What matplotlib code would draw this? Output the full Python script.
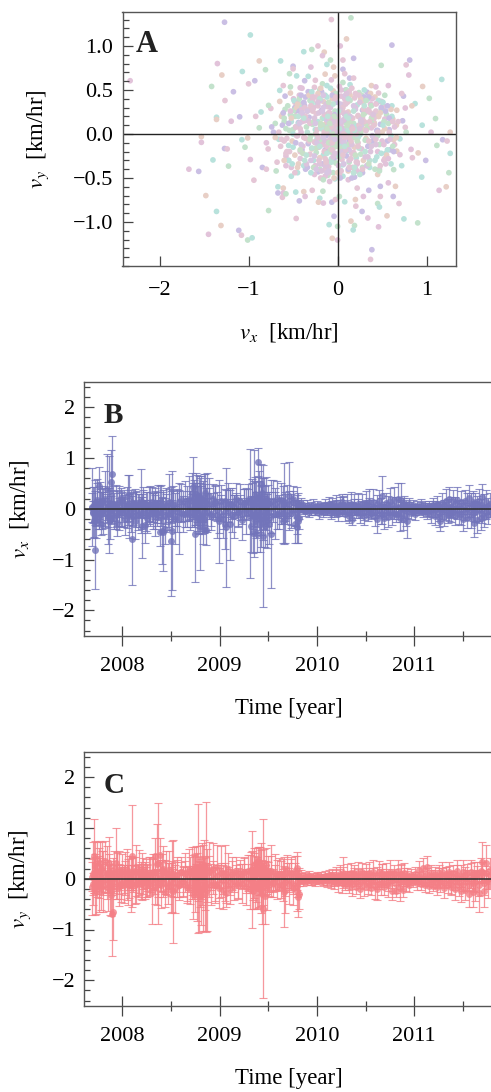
"""Velocity scatter (A) and v_x / v_y time series with error bars (B, C)."""

import matplotlib
matplotlib.use("Agg")
import matplotlib.pyplot as plt
from matplotlib.ticker import MultipleLocator

plt.rcParams["font.family"] = ["Liberation Serif", "DejaVu Serif"]
plt.rcParams["mathtext.fontset"] = "stix"

W, H = 491, 1092

# ── Panel A: outlying points, then the middle ring, then the core ──
scat_x = [
    -1.27, -0.07, 0.15, -0.98, 0.10, 0.03, 0.61, -0.22, -0.29, -0.38,
    -0.15, -0.17, 0.18, 0.06, -0.08, -0.64, -0.88, -1.35, 0.81, 0.77,
    0.49, -0.12, -0.045, -0.30, -0.50, -0.50, -0.81, -1.07, -1.30, 0.80,
    0.06, 0.08, -0.54, -0.46, -0.14, -2.33, -0.93, -1.00, -1.415, 1.17,
    0.955, 0.57, -1.17, -1.265, 1.03, 0.87, 0.835, 0.76, 0.74, 0.72,
    1.10, 0.95, 1.265, 1.05, 1.18, 1.23, 1.115, 1.265, 0.905, 0.825,
    0.99, 0.84, 1.25, 0.945, 1.22, 1.14, 0.625, 0.69, 0.90, 0.745,
    0.555, 0.46, 0.385, 0.37, 0.19, 0.175, 0.15, 0.34, 0.275, 0.205,
    0.00, -0.095, -0.06, 0.00, -0.04, -0.465, -0.775, -1.36, -1.31, -1.45,
    -1.11, -1.08, -1.01, -0.96, -1.48, -1.67, -1.56, -0.94, -1.225, -1.40,
    -1.53, -1.53, -1.27, -1.24, -1.04, -1.075, -1.01, -0.98, -0.845, -0.80,
    -0.69, -1.36, -1.36, -1.195, -1.10, -0.92, -0.88,
    # middle ring
    -0.67, -0.61, -0.61, -0.67, -0.62, -0.58, -0.47, -0.38, -0.365, -0.43,
    -0.285, -0.165, -0.20, -0.215, -0.16, -0.065, -0.025, 0.02, 0.08, 0.20,
    0.29, 0.35, 0.48, 0.45, 0.47, 0.65, 0.57, 0.48, 0.22, 0.63,
    0.72, 0.665, 0.70, 0.59, -0.61, -0.53, -0.65, -0.53, -0.42, -0.59,
    -0.75, -0.775, -0.86, -0.65, -0.495, -0.37, -0.25, -0.17, -0.33, -0.03,
    -0.07, 0.135, 0.18, 0.06, 0.14, 0.38, 0.43, 0.33, 0.46, 0.53,
    0.61, 0.665, 0.51, 0.73, 0.76, 0.77, 0.70, 0.63, -0.80, -0.72,
    -0.78, -0.70, -0.66, -0.62, -0.58, -0.74, -0.68, -0.60, -0.55, -0.70,
    -0.52, -0.48, -0.57, -0.50, -0.45, -0.63, -0.55, -0.47, -0.60, -0.42,
    -0.52, -0.44, -0.58, -0.40, -0.48, 0.55, 0.60, 0.66, 0.52, 0.58,
    0.64, 0.49, 0.54, 0.62, 0.47, 0.56, 0.68, 0.50, 0.60, 0.45,
    # core
    -0.40, -0.33, -0.26, -0.20, -0.12, -0.05, 0.02, 0.09, 0.16, 0.24,
    0.30, 0.37, -0.43, -0.36, -0.29, -0.21, -0.14, -0.06, 0.04, 0.11,
    0.19, 0.27, 0.34, 0.42, 0.49, -0.46, -0.38, -0.31, -0.23, -0.16,
    -0.09, -0.01, 0.07, 0.14, 0.22, 0.29, 0.37, 0.44, 0.51, -0.49,
    -0.41, -0.34, -0.27, -0.18, -0.11, -0.03, 0.05, 0.12, 0.20, 0.28,
    0.35, 0.43, 0.50, -0.47, -0.39, -0.32, -0.24, -0.17, -0.08, 0.00,
    0.08, 0.15, 0.23, 0.31, 0.39, 0.46, 0.53, -0.44, -0.37, -0.28,
    -0.22, -0.13, -0.04, 0.03, 0.10, 0.18, 0.26, 0.33, 0.41, 0.48,
    -0.42, -0.35, -0.25, -0.19, -0.10, -0.02, 0.06, 0.13, 0.21, 0.30,
    0.38, 0.45, -0.38, -0.30, -0.23, -0.15, -0.07, 0.01, 0.09, 0.17,
    0.25, 0.32, 0.40, -0.33, -0.26, -0.18, -0.09, 0.00, 0.07, 0.15,
    0.23, 0.31, 0.36, -0.29, -0.21, -0.14, -0.06, 0.03, 0.11, 0.19,
    0.27, 0.34, -0.31, -0.24, -0.16, -0.08, 0.02, 0.10, 0.18, 0.26,
    -0.27, -0.20, -0.12, -0.04, 0.05, 0.13, 0.21, 0.29, -0.25, -0.17,
    -0.10, -0.02, 0.06, 0.14, 0.22, -0.22, -0.14, -0.05, 0.03, 0.12,
    0.20, 0.28, -0.19, -0.11, -0.03, 0.04, 0.12, 0.19, -0.16, -0.08,
    0.00, 0.08, 0.16, -0.13, -0.06, 0.02, 0.09, 0.15, -0.11, -0.04,
    0.03, 0.10, -0.15, -0.07, 0.01, 0.07, 0.14, -0.18, -0.09, -0.01,
    0.06, 0.13, -0.12, -0.05, 0.04, 0.11, -0.10, -0.03, 0.05, 0.12,
    -0.08, 0.00, 0.08, -0.13, -0.04, 0.04, 0.10, -0.06, 0.02, 0.07,
]
scat_y = [
    1.27, 1.30, 1.32, 1.125, 1.08, 1.00, 1.01, 1.00, 0.96, 0.935,
    0.93, 0.89, 0.86, 0.84, 0.84, 0.83, 0.83, 0.80, 0.84, 0.785,
    0.78, 0.79, 0.76, 0.76, 0.77, 0.74, 0.73, 0.71, 0.67, 0.67,
    0.735, 0.685, 0.685, 0.66, 0.68, 0.605, 0.605, 0.57, 0.54, 0.62,
    0.54, 0.55, 0.48, 0.38, 0.405, 0.345, 0.32, 0.295, 0.43, 0.46,
    0.175, 0.10, 0.02, 0.02, -0.065, -0.08, -0.13, -0.22, -0.215, -0.175,
    -0.30, -0.27, -0.44, -0.49, -0.60, -0.64, -0.71, -0.79, -1.01, -0.965,
    -0.93, -1.055, -1.315, -1.425, -1.04, -1.09, -0.99, -0.955, -0.88, -0.82,
    -1.05, -1.03, -1.185, -1.205, -0.935, -0.96, -0.87, -0.88, -1.04, -1.14,
    -1.095, -1.15, -1.205, -1.18, -0.70, -0.40, -0.425, -0.525, -0.365, -0.295,
    -0.03, -0.095, -0.165, -0.17, -0.15, -0.065, -0.045, -0.29, -0.38, -0.40,
    -0.42, 0.19, 0.165, 0.145, 0.195, 0.20, 0.07,
    # middle ring
    -0.60, -0.615, -0.67, -0.67, -0.72, -0.68, -0.66, -0.655, -0.71, -0.76,
    -0.64, -0.65, -0.73, -0.775, -0.785, -0.775, -0.745, -0.71, -0.77, -0.745,
    -0.71, -0.64, -0.71, -0.79, -0.83, -0.595, -0.555, -0.595, -0.615, -0.405,
    -0.36, -0.195, -0.235, -0.18, 0.55, 0.535, 0.495, 0.465, 0.525, 0.43,
    0.29, 0.325, 0.25, 0.37, 0.40, 0.605, 0.61, 0.57, 0.655, 0.66,
    0.615, 0.635, 0.635, 0.585, 0.56, 0.55, 0.535, 0.475, 0.465, 0.44,
    0.32, 0.27, 0.315, 0.15, 0.075, 0.02, -0.055, -0.065, -0.10, 0.02,
    -0.17, 0.12, -0.06, 0.22, -0.25, 0.08, -0.32, 0.14, -0.13, -0.04,
    -0.38, 0.30, -0.20, 0.05, -0.44, 0.20, -0.30, 0.26, -0.08, 0.34,
    -0.48, 0.10, -0.36, -0.18, 0.36, 0.22, -0.02, 0.10, -0.30, 0.05,
    -0.12, 0.28, -0.22, 0.17, -0.40, -0.08, 0.14, 0.36, -0.34, -0.46,
    # core
    0.52, 0.48, 0.53, 0.50, 0.55, 0.49, 0.54, 0.50, 0.52, 0.47,
    0.50, 0.46, 0.44, 0.42, 0.45, 0.41, 0.44, 0.40, 0.43, 0.45,
    0.41, 0.44, 0.40, 0.42, 0.37, 0.36, 0.35, 0.38, 0.34, 0.37,
    0.33, 0.36, 0.34, 0.38, 0.33, 0.36, 0.34, 0.35, 0.30, 0.27,
    0.29, 0.26, 0.30, 0.27, 0.31, 0.26, 0.29, 0.25, 0.30, 0.27,
    0.28, 0.24, 0.26, 0.20, 0.22, 0.19, 0.23, 0.18, 0.22, 0.19,
    0.23, 0.18, 0.21, 0.24, 0.19, 0.20, 0.17, 0.13, 0.15, 0.11,
    0.14, 0.12, 0.16, 0.11, 0.15, 0.12, 0.14, 0.10, 0.13, 0.11,
    0.06, 0.08, 0.05, 0.09, 0.06, 0.08, 0.04, 0.07, 0.09, 0.05,
    0.07, 0.04, -0.04, -0.02, -0.05, -0.01, -0.03, -0.06, -0.02, -0.04,
    -0.01, -0.05, -0.03, -0.11, -0.09, -0.12, -0.08, -0.11, -0.09, -0.12,
    -0.10, -0.07, -0.11, -0.17, -0.15, -0.18, -0.14, -0.16, -0.19, -0.15,
    -0.17, -0.14, -0.23, -0.21, -0.24, -0.20, -0.22, -0.25, -0.21, -0.23,
    -0.30, -0.27, -0.31, -0.28, -0.29, -0.32, -0.27, -0.30, -0.36, -0.34,
    -0.37, -0.33, -0.35, -0.38, -0.34, -0.43, -0.40, -0.44, -0.41, -0.42,
    -0.39, -0.44, -0.50, -0.47, -0.51, -0.48, -0.52, -0.49, 0.06, 0.03,
    0.07, 0.02, 0.05, -0.02, 0.01, -0.04, -0.01, 0.03, 0.10, 0.13,
    0.09, 0.12, 0.18, 0.15, 0.19, 0.16, 0.14, -0.07, -0.10, -0.06,
    -0.09, -0.07, -0.14, -0.16, -0.12, -0.15, 0.24, 0.22, 0.25, 0.21,
    -0.20, -0.24, -0.19, 0.00, 0.01, -0.01, 0.02, 0.04, -0.03, 0.00,
]

# shoulder of the cloud, between the core and the loose outer points
ring_x = [
    -.62, -.57, -.53, -.50, -.46, -.42, -.38, -.58, -.54, -.49,
    -.44, -.40, -.36, -.66, -.60, -.55, -.51, -.47, -.43, -.64,
    -.59, -.52, -.48, -.41, -.37, -.63, -.56, -.50, -.45, -.39,
    -.61, -.54, -.49, -.44, -.60, -.53, -.47, -.42, -.58, -.51,
    -.45, -.40, -.55, -.48, -.43, -.38, -.52, -.46, -.41, -.36,
    .38, .42, .46, .50, .54, .58, .62, .36, .41, .45,
    .49, .53, .57, .61, .66, .39, .44, .48, .52, .56,
    .60, .64, .40, .43, .47, .51, .55, .59, .63, .37,
    .42, .46, .50, .54, .58, .62, .38, .44, .48, .52,
    .56, .41, .45, .49, .53, .57, .35, .43, .47, .51,
    -.32, -.26, -.18, -.10, -.02, .06, .14, .22, .30, -.28,
    -.20, -.12, -.04, .04, .12, .20, .28, -.30, -.22, -.14,
    -.06, .02, .10, .18, .26, .33, -.34, -.24, -.16, -.08,
    .00, .08, .16, .24, .32, -.29, -.19, -.09, .03, .13,
]
ring_y = [
    .10, -.05, .22, -.15, .30, -.28, .36, -.22, .04, .38,
    -.34, .14, -.40, .02, .18, -.30, -.08, .08, .26, -.14,
    .28, .14, -.24, .02, .32, -.06, .32, .00, -.38, -.14,
    .24, -.20, .20, .12, -.30, .26, -.10, -.20, .06, -.34,
    .34, .28, .12, -.44, .40, -.36, .18, -.02, .44, .20,
    .32, -.30, .20, -.08, .26, .02, -.14, -.38, .12, -.20,
    .30, -.28, .12, .20, -.04, .40, .04, -.36, .14, -.18,
    .28, .08, -.08, .26, -.12, .36, -.24, -.06, -.20, .24,
    -.40, .38, .02, -.34, .18, .14, .14, -.26, .24, -.12,
    .32, .18, -.02, -.22, .06, -.28, .42, .34, -.42, .10,
    .44, -.46, .48, -.44, .46, -.48, .44, -.42, .42, .38,
    -.40, .42, -.50, .50, -.40, .46, -.38, -.44, .46, -.48,
    .44, -.46, .50, -.44, .40, -.36, -.38, .42, -.52, .52,
    -.44, .40, -.50, .44, .38, .48, .52, -.54, -.50, .48,
]

# dense centre of the cloud, where the dots pile up into a pinkish mass
core_x = [
    -.47, -.41, -.44, -.36, -.39, -.33, -.37, -.30, -.34, -.28,
    -.42, -.35, -.31, -.26, -.29, -.23, -.27, -.21, -.25, -.19,
    -.38, -.32, -.24, -.18, -.22, -.16, -.20, -.14, -.17, -.12,
    -.28, -.24, -.19, -.15, -.11, -.13, -.09, -.16, -.07, -.10,
    -.05, -.08, -.03, -.12, -.06, -.01, -.04, .01, -.02, .03,
    .00, .05, .02, .07, .04, .09, .06, .11, .08, .13,
    .10, .15, .12, .17, .14, .19, .16, .21, .18, .23,
    .20, .25, .22, .27, .24, .29, .26, .31, .28, .33,
    .30, .35, .32, .37, .34, .39, .36, .41, .38, .43,
    -.45, -.40, -.35, -.30, -.25, -.20, -.15, -.10, -.05, .00,
    .05, .10, .15, .20, .25, .30, .35, .40, .45, -.43,
    -.37, -.32, -.27, -.22, -.17, -.12, -.07, -.02, .03, .08,
    .13, .18, .23, .28, .33, .38, .43, -.34, -.29, -.24,
    -.19, -.14, -.09, -.04, .01, .06, .11, .16, .21, .26,
    .31, .36, -.31, -.26, -.21, -.16, -.11, -.06, -.01, .04,
    .09, .14, .19, .24, .29, .34, -.28, -.23, -.18, -.13,
    -.08, -.03, .02, .07, .12, .17, .22, .27, .32, -.25,
    -.20, -.15, -.10, -.05, .00, .05, .10, .15, .20, .25,
    -.22, -.17, -.12, -.07, -.02, .03, .08, .13, .18, .23,
    -.19, -.14, -.09, -.04, .01, .06, .11, .16, .21, -.16,
    -.11, -.06, -.01, .04, .09, .14, .19, -.13, -.08, -.03,
    .02, .07, .12, .17, -.10, -.05, .00, .05, .10, .15,
    -.12, -.07, -.02, .03, .08, .13, -.09, -.04, .01, .06,
    .11, -.06, -.01, .04, .09, -.03, .02, .07, -.05, .00,
]
core_y = [
    .08, -.12, .20, -.05, -.22, .15, .30, -.30, .02, .26,
    -.18, -.34, .12, -.25, .35, .05, -.38, .24, -.10, .38,
    .18, .28, -.16, -.42, .32, -.02, .40, -.28, .10, -.36,
    .42, -.40, .07, -.20, .22, .34, -.07, .44, -.32, .14,
    -.22, .30, .40, -.44, .04, -.14, .20, -.36, .12, .34,
    -.06, .26, -.26, .16, -.42, .44, -.18, .36, .06, -.30,
    .24, -.10, .40, -.38, .14, .30, -.22, .04, -.44, .20,
    -.04, .36, -.32, .10, -.16, .28, .02, -.26, .18, -.36,
    .32, -.08, .12, -.20, .26, -.02, -.30, .10, .18, -.12,
    -.02, .24, -.24, .32, .00, -.34, .22, -.42, .34, .10,
    -.16, .46, -.28, .28, -.46, .14, -.34, .22, .02, .12,
    -.30, -.08, .14, .36, -.12, .16, -.28, .42, -.20, .22,
    -.38, .32, -.04, -.40, .06, -.14, -.06, .26, -.16, .00,
    .12, -.36, .24, .04, -.24, .30, -.12, .08, -.32, .16,
    -.20, .14, -.06, .18, -.30, .30, .08, -.18, .16, -.08,
    .34, -.02, -.38, .10, .22, -.26, .28, -.10, .06, -.32,
    -.18, .06, .24, -.34, -.02, .18, -.08, .14, .04, .12,
    -.14, .02, .36, -.26, .14, -.20, .20, .00, -.24, .06,
    -.04, .26, -.22, .08, -.14, .28, -.04, -.18, .26, -.14,
    .10, -.08, .18, .02, .26, -.24, .10, -.12, .00, -.04,
    .20, -.18, -.08, .12, -.18, .20, .04, .02, .12, -.22,
    .08, -.10, .18, .06, -.10, .14, .06, .00, .04, -.08,
    .06, -.04, .02, .14, -.14, -.04, .12, -.04, -.02, .04,
    .02, -.10, -.02, .08, -.02, -.06, .06, .00, .00, .02,
]

# ── Panel B: time [year], v_x and its error ──
time_b = [
    2007.69, 2007.70, 2007.71, 2007.715, 2007.72, 2007.73, 2007.74, 2007.755, 2007.76, 2007.77,
    2007.78, 2007.79, 2007.80, 2007.82, 2007.84, 2007.85, 2007.86, 2007.87, 2007.88, 2007.89,
    2007.90, 2007.91, 2007.93, 2007.94, 2007.96, 2007.97, 2007.99, 2008.00, 2008.02, 2008.03,
    2008.05, 2008.06, 2008.07, 2008.09, 2008.10, 2008.11, 2008.13, 2008.14, 2008.16, 2008.17,
    2008.19, 2008.20, 2008.21, 2008.23, 2008.24, 2008.25, 2008.27, 2008.28, 2008.30, 2008.31,
    2008.33, 2008.34, 2008.36, 2008.37, 2008.39, 2008.40, 2008.41, 2008.42, 2008.44, 2008.45,
    2008.47, 2008.48, 2008.50, 2008.505, 2008.52, 2008.54, 2008.56, 2008.58, 2008.60, 2008.62,
    2008.64, 2008.66, 2008.68, 2008.70, 2008.72, 2008.73, 2008.74, 2008.75, 2008.76, 2008.77,
    2008.78, 2008.79, 2008.80, 2008.81, 2008.82, 2008.83, 2008.84, 2008.85, 2008.86, 2008.87,
    2008.89, 2008.91, 2008.93, 2008.95, 2008.97, 2008.99, 2009.01, 2009.03, 2009.05, 2009.07,
    2009.09, 2009.11, 2009.13, 2009.15, 2009.17, 2009.19, 2009.21, 2009.23, 2009.25, 2009.27,
    2009.29, 2009.31, 2009.32, 2009.33, 2009.34, 2009.35, 2009.36, 2009.37, 2009.38, 2009.39,
    2009.40, 2009.41, 2009.42, 2009.43, 2009.44, 2009.45, 2009.46, 2009.47, 2009.48, 2009.49,
    2009.50, 2009.51, 2009.53, 2009.55, 2009.57, 2009.59, 2009.61, 2009.63, 2009.65, 2009.66,
    2009.67, 2009.69, 2009.71, 2009.73, 2009.75, 2009.77, 2009.79, 2009.80, 2009.81, 2009.82,
    2009.84, 2009.86, 2009.88, 2009.90, 2009.92, 2009.94, 2009.96, 2009.98, 2010.00, 2010.02,
    2010.04, 2010.06, 2010.08, 2010.10, 2010.12, 2010.14, 2010.16, 2010.18, 2010.20, 2010.22,
    2010.24, 2010.26, 2010.27, 2010.29, 2010.31, 2010.33, 2010.35, 2010.36, 2010.38, 2010.40,
    2010.42, 2010.44, 2010.46, 2010.48, 2010.50, 2010.52, 2010.54, 2010.56, 2010.58, 2010.60,
    2010.62, 2010.64, 2010.66, 2010.67, 2010.69, 2010.71, 2010.73, 2010.75, 2010.77, 2010.79,
    2010.81, 2010.83, 2010.85, 2010.86, 2010.88, 2010.90, 2010.92, 2010.93, 2010.95, 2010.97,
    2010.99, 2011.01, 2011.03, 2011.05, 2011.07, 2011.09, 2011.11, 2011.13, 2011.15, 2011.17,
    2011.19, 2011.21, 2011.23, 2011.25, 2011.27, 2011.29, 2011.31, 2011.33, 2011.35, 2011.36,
    2011.38, 2011.40, 2011.42, 2011.44, 2011.46, 2011.48, 2011.50, 2011.52, 2011.54, 2011.56,
    2011.58, 2011.60, 2011.61, 2011.63, 2011.65, 2011.67, 2011.69, 2011.70, 2011.72, 2011.74,
    2011.76, 2011.78,
]
vx = [
    0.03, -0.08, -0.25, -0.81, 0.12, -0.24, 0.18, 0.45, -0.12, 0.10,
    -0.30, 0.15, -0.05, 0.20, 0.39, -0.15, 0.08, -0.22, 0.53, 0.69,
    0.10, -0.18, 0.05, -0.28, 0.14, -0.10, 0.22, -0.06, 0.12, -0.20,
    -0.08, 0.27, 0.05, -0.15, -0.60, 0.12, -0.25, 0.08, -0.12, 0.10,
    0.15, -0.35, 0.12, -0.32, 0.10, -0.18, 0.06, -0.10, 0.14, -0.05,
    -0.14, 0.10, -0.08, 0.12, -0.45, 0.06, -0.43, -0.45, -0.40, 0.05,
    -0.12, 0.14, -0.64, -0.43, 0.10, -0.20, -0.05, -0.20, 0.18, -0.10,
    0.15, -0.08, 0.20, -0.12, 0.30, 0.43, 0.22, -0.50, 0.28, 0.12,
    -0.18, 0.25, -0.30, 0.20, -0.15, -0.40, 0.18, 0.30, -0.42, 0.12,
    0.25, -0.10, 0.20, 0.14, -0.12, -0.25, 0.15, -0.20, -0.30, -0.37,
    0.12, -0.30, 0.10, -0.15, 0.20, -0.08, 0.16, -0.22, 0.12, -0.05,
    0.18, -0.09, -0.35, 0.20, -0.48, 0.10, 0.28, -0.12, -0.50, 0.92,
    0.25, -0.30, 0.48, -0.15, 0.30, -0.53, 0.10, -0.35, 0.20, -0.22,
    0.12, -0.30, -0.50, 0.15, -0.10, 0.20, -0.12, 0.18, -0.25, 0.10,
    -0.20, 0.14, 0.25, -0.08, 0.20, -0.30, 0.12, -0.36, -0.25, -0.18,
    0.08, 0.06, -0.04, 0.05, -0.06, 0.04, 0.08, -0.05, 0.06, -0.08,
    0.05, -0.07, 0.08, -0.04, 0.09, -0.08, 0.10, -0.06, 0.11, -0.10,
    0.08, 0.13, 0.07, -0.10, 0.09, -0.14, 0.10, -0.20, 0.08, -0.07,
    0.10, -0.12, 0.09, -0.15, 0.12, -0.10, 0.14, -0.08, 0.13, -0.15,
    -0.20, 0.15, -0.12, 0.25, -0.18, 0.12, -0.16, 0.15, -0.14, 0.18,
    -0.10, 0.20, -0.18, 0.18, -0.20, 0.10, -0.15, -0.25, 0.09, -0.08,
    0.07, -0.10, 0.06, -0.05, 0.08, -0.06, 0.06, -0.09, 0.05, -0.12,
    0.08, -0.14, 0.10, -0.16, -0.24, 0.12, -0.15, 0.16, -0.12, 0.20,
    -0.10, 0.16, -0.14, 0.18, -0.12, 0.14, -0.20, 0.16, -0.18, 0.22,
    -0.16, 0.14, -0.28, 0.12, -0.22, 0.16, -0.18, 0.24, -0.16, 0.14,
    -0.12, 0.10,
]
err_vx = [
    0.77, 0.50, 0.30, 0.77, 0.45, 0.33, 0.40, 0.37, 0.28, 0.42,
    0.22, 0.30, 0.45, 0.55, 0.68, 0.55, 0.95, 0.38, 0.62, 0.74,
    0.35, 0.22, 0.42, 0.25, 0.30, 0.32, 0.18, 0.30, 0.25, 0.32,
    0.30, 0.40, 0.62, 0.30, 0.90, 0.20, 0.35, 0.25, 0.30, 0.18,
    0.63, 0.63, 0.30, 0.35, 0.22, 0.30, 0.36, 0.24, 0.28, 0.35,
    0.40, 0.30, 0.26, 0.34, 0.28, 0.40, 0.66, 0.77, 0.30, 0.35,
    0.24, 0.55, 1.07, 1.17, 0.35, 0.50, 0.40, 0.70, 0.30, 0.35,
    0.40, 0.28, 0.44, 0.30, 0.40, 0.59, 0.35, 0.95, 0.42, 0.55,
    0.30, 0.40, 0.90, 0.45, 0.35, 0.30, 0.50, 0.38, 0.30, 0.58,
    0.35, 0.32, 0.28, 0.30, 0.45, 0.82, 0.32, 0.38, 0.50, 1.17,
    0.38, 0.70, 0.30, 0.42, 0.30, 0.28, 0.32, 0.40, 0.26, 0.45,
    0.30, 1.27, 0.50, 0.30, 0.40, 1.05, 0.35, 0.45, 0.36, 0.27,
    0.50, 0.55, 0.40, 0.60, 0.30, 1.40, 0.50, 0.40, 0.42, 0.55,
    0.35, 0.40, 1.07, 0.42, 0.50, 0.35, 0.28, 0.32, 0.42, 0.80,
    0.48, 0.32, 0.66, 0.30, 0.25, 0.38, 0.30, 0.32, 0.43, 0.22,
    0.14, 0.12, 0.10, 0.12, 0.10, 0.09, 0.12, 0.08, 0.10, 0.12,
    0.09, 0.10, 0.12, 0.08, 0.14, 0.12, 0.12, 0.10, 0.15, 0.14,
    0.15, 0.15, 0.18, 0.14, 0.20, 0.15, 0.22, 0.13, 0.20, 0.12,
    0.20, 0.16, 0.20, 0.18, 0.22, 0.15, 0.24, 0.12, 0.25, 0.20,
    0.28, 0.22, 0.18, 0.39, 0.22, 0.18, 0.20, 0.25, 0.18, 0.24,
    0.16, 0.30, 0.25, 0.32, 0.22, 0.15, 0.20, 0.33, 0.12, 0.12,
    0.10, 0.12, 0.09, 0.08, 0.12, 0.10, 0.10, 0.12, 0.10, 0.16,
    0.14, 0.18, 0.15, 0.20, 0.19, 0.18, 0.20, 0.22, 0.16, 0.22,
    0.16, 0.20, 0.18, 0.24, 0.18, 0.20, 0.24, 0.20, 0.20, 0.25,
    0.22, 0.20, 0.27, 0.18, 0.25, 0.22, 0.24, 0.25, 0.20, 0.22,
    0.18, 0.20,
]

# ── Panel C: time [year], v_y and its error ──
time_c = time_b
vy = [
    -0.17, 0.10, 0.45, -0.12, 0.25, -0.20, 0.32, 0.15, -0.10, 0.30,
    -0.16, 0.22, -0.05, 0.34, 0.12, -0.18, 0.28, -0.22, -0.32, -0.69,
    -0.66, 0.20, 0.30, 0.06, -0.14, 0.16, -0.08, 0.18, -0.12, 0.10,
    0.18, -0.06, 0.14, -0.10, 0.45, 0.08, -0.12, 0.16, -0.05, 0.12,
    -0.10, 0.20, 0.05, -0.14, 0.10, -0.04, 0.12, -0.08, -0.25, 0.14,
    0.44, -0.16, 0.28, 0.30, 0.46, -0.12, 0.18, 0.20, -0.26, 0.12,
    -0.10, 0.18, -0.22, 0.05, -0.25, -0.18, 0.08, -0.12, 0.14, -0.06,
    0.12, -0.16, 0.18, -0.20, 0.15, -0.30, 0.20, -0.10, 0.22, -0.28,
    0.20, -0.35, 0.24, -0.32, 0.15, -0.18, 0.26, -0.30, 0.23, -0.22,
    0.18, -0.12, 0.20, -0.10, 0.24, -0.18, 0.14, -0.22, 0.12, -0.28,
    0.18, -0.20, 0.10, -0.14, 0.16, -0.08, 0.12, -0.10, 0.14, -0.16,
    0.16, -0.20, 0.18, -0.02, -0.24, 0.26, -0.14, 0.30, -0.18, 0.34,
    -0.16, 0.28, -0.22, 0.20, -0.30, -0.59, 0.22, -0.34, 0.26, -0.20,
    0.14, -0.10, 0.15, -0.08, 0.12, -0.14, 0.10, -0.12, 0.08, -0.26,
    -0.22, 0.14, -0.10, 0.12, -0.18, 0.16, -0.24, 0.22, -0.36, -0.30,
    0.06, -0.05, 0.04, -0.04, 0.05, -0.04, 0.03, -0.05, 0.05, -0.03,
    0.04, -0.05, 0.06, -0.04, 0.07, -0.07, 0.08, -0.06, 0.08, -0.09,
    0.10, -0.08, 0.12, -0.10, 0.09, -0.14, 0.12, -0.10, 0.11, -0.16,
    0.12, -0.20, 0.14, -0.12, 0.10, -0.15, 0.12, -0.18, 0.14, -0.14,
    -0.20, 0.14, -0.10, 0.12, -0.16, 0.10, -0.12, 0.14, -0.24, 0.12,
    -0.25, 0.16, -0.18, 0.10, -0.22, 0.12, -0.10, 0.08, -0.12, 0.08,
    -0.06, 0.10, -0.08, 0.18, -0.10, 0.22, -0.12, 0.24, -0.14, 0.12,
    -0.14, 0.10, -0.16, 0.12, -0.10, 0.14, -0.18, 0.10, -0.12, 0.14,
    -0.16, 0.12, -0.20, 0.16, -0.14, -0.24, 0.14, -0.22, 0.12, -0.30,
    0.14, -0.26, 0.12, -0.20, 0.12, -0.28, 0.16, 0.32, -0.24, 0.30,
    -0.14, 0.18,
]
err_vy = [
    0.55, 0.62, 0.73, 0.60, 0.50, 0.50, 0.40, 0.45, 0.55, 0.45,
    0.45, 0.50, 0.60, 0.40, 0.52, 0.45, 0.55, 0.50, 0.42, 0.84,
    0.55, 0.35, 0.70, 0.45, 0.40, 0.38, 0.32, 0.30, 0.36, 0.42,
    0.40, 0.45, 0.30, 0.55, 1.00, 0.35, 0.38, 0.50, 0.32, 0.45,
    0.30, 0.30, 0.35, 0.26, 0.28, 0.32, 0.30, 0.25, 0.65, 0.34,
    0.36, 0.34, 0.80, 1.20, 0.35, 0.45, 0.30, 0.45, 0.30, 0.42,
    0.40, 0.36, 0.45, 0.70, 1.02, 0.50, 0.35, 0.30, 0.28, 0.30,
    0.38, 0.32, 0.40, 0.30, 0.48, 0.50, 0.42, 0.55, 0.42, 0.55,
    1.27, 0.70, 0.40, 0.60, 0.55, 0.85, 0.50, 0.72, 1.28, 0.80,
    0.55, 0.40, 0.50, 0.34, 0.42, 0.40, 0.50, 0.38, 0.55, 0.28,
    0.32, 0.30, 0.24, 0.28, 0.26, 0.30, 0.25, 0.38, 0.28, 0.36,
    0.30, 0.40, 0.34, 0.95, 0.35, 0.34, 0.45, 0.30, 0.42, 0.28,
    0.40, 0.34, 0.45, 0.50, 0.60, 1.76, 0.36, 0.55, 0.34, 0.42,
    0.30, 0.25, 0.52, 0.28, 0.36, 0.25, 0.30, 0.26, 0.30, 0.69,
    0.45, 0.32, 0.40, 0.30, 0.34, 0.28, 0.40, 0.30, 0.40, 0.30,
    0.12, 0.10, 0.10, 0.09, 0.11, 0.09, 0.08, 0.10, 0.08, 0.08,
    0.10, 0.09, 0.10, 0.12, 0.10, 0.12, 0.12, 0.14, 0.15, 0.18,
    0.16, 0.20, 0.30, 0.12, 0.20, 0.15, 0.18, 0.24, 0.16, 0.15,
    0.20, 0.18, 0.16, 0.22, 0.18, 0.16, 0.20, 0.15, 0.22, 0.26,
    0.22, 0.20, 0.22, 0.16, 0.16, 0.20, 0.25, 0.22, 0.18, 0.14,
    0.12, 0.20, 0.26, 0.16, 0.15, 0.18, 0.15, 0.14, 0.15, 0.12,
    0.10, 0.14, 0.14, 0.16, 0.12, 0.18, 0.14, 0.20, 0.14, 0.14,
    0.10, 0.14, 0.16, 0.14, 0.16, 0.18, 0.20, 0.14, 0.16, 0.18,
    0.16, 0.14, 0.22, 0.20, 0.20, 0.22, 0.22, 0.20, 0.16, 0.26,
    0.22, 0.30, 0.20, 0.24, 0.20, 0.38, 0.25, 0.40, 0.32, 0.36,
    0.24, 0.22,
]

# the solid band of points that sit close to zero, same times as above
vx_near = [
    .02, -.06, .08, -.02, .05, -.10, .12, .00, -.14, .06,
    .10, -.04, .14, -.08, .03, -.16, .07, .12, -.03, -.11,
    .05, .09, -.13, .01, -.07, .11, -.02, .15, -.09, .04,
    .08, -.12, .02, .13, -.05, -.15, .10, -.01, .06, -.10,
    .03, -.08, .12, .00, -.13, .07, -.04, .10, -.07, .02,
    .11, -.03, -.10, .06, .14, -.06, .01, .09, -.12, .04,
    -.09, .12, .03, -.05, .08, -.14, .02, .13, -.08, .05,
    -.11, .10, .00, .07, -.04, .15, -.13, .09, -.02, .12,
    .18, -.16, .06, .22, -.10, .14, -.20, .02, .16, -.06,
    .10, -.14, .05, .12, -.03, -.18, .08, -.11, .15, .01,
    -.07, .10, -.13, .04, .12, -.06, .02, -.10, .09, -.01,
    .13, -.16, .05, .20, -.12, .10, -.24, .16, -.06, .22,
    .06, -.20, .12, -.10, .18, -.26, .03, .14, -.16, .08,
    -.06, .11, -.14, .02, .09, -.10, .06, -.04, .13, -.08,
    .04, -.12, .10, -.02, .14, -.09, .05, -.16, .07, -.03,
    .03, -.03, .02, -.02, .03, -.02, .01, -.03, .02, -.01,
    .03, -.02, .04, -.03, .05, -.04, .06, -.03, .05, -.06,
    .04, -.05, .07, -.02, .06, -.08, .03, -.06, .07, -.03,
    .05, -.07, .02, -.05, .08, -.03, .06, -.09, .04, -.06,
    .09, -.02, .06, -.10, .03, -.07, .08, -.04, .07, -.08,
    .05, -.10, .03, -.06, .09, -.02, .07, -.05, .04, -.03,
    .03, -.04, .02, -.02, .04, -.03, .02, -.04, .03, -.05,
    .06, -.03, .07, -.08, .02, -.05, .08, -.04, .06, -.09,
    .03, -.07, .09, -.02, .06, -.10, .04, -.06, .10, -.04,
    .07, -.09, .03, -.06, .10, -.03, .08, -.11, .04, -.07,
    .06, -.05,
]
vy_near = [
    .04, -.10, .06, -.03, .12, -.07, .02, .15, -.12, .08,
    -.05, .18, -.14, .03, .10, -.09, .14, -.02, .07, -.15,
    .11, -.06, .01, .16, -.10, .05, -.13, .09, -.01, .13,
    -.08, .06, -.12, .02, .11, -.04, .15, -.11, .07, -.02,
    .12, -.09, .04, .14, -.06, .01, -.13, .08, -.03, .10,
    -.07, .13, .02, -.11, .06, -.04, .16, -.09, .03, .11,
    -.14, .05, -.02, .12, -.08, .07, .00, -.12, .14, -.05,
    .09, -.10, .03, .15, -.07, .10, -.16, .06, -.01, .13,
    -.18, .08, -.12, .16, -.22, .04, .12, -.15, .07, -.10,
    .14, -.03, .09, -.13, .05, -.08, .12, -.02, .06, -.11,
    .03, -.07, .10, -.04, .08, -.12, .05, -.01, .11, -.06,
    .02, .13, -.09, .17, -.14, .06, .20, -.10, .12, -.18,
    .15, -.06, .22, -.12, .09, -.16, .13, -.03, .08, -.11,
    .05, -.04, .10, -.08, .02, .07, -.05, .09, -.12, .03,
    -.07, .12, -.02, .08, -.10, .05, -.14, .11, -.06, .04,
    .02, -.02, .03, -.01, .02, -.03, .01, -.02, .03, -.02,
    .02, -.03, .03, -.02, .04, -.03, .05, -.04, .04, -.05,
    .06, -.03, .07, -.05, .04, -.07, .06, -.04, .08, -.06,
    .05, -.08, .07, -.03, .06, -.09, .05, -.07, .08, -.04,
    .07, -.10, .04, .09, -.06, .05, -.08, .07, -.03, .08,
    -.11, .04, -.06, .09, -.03, .06, -.05, .03, -.04, .02,
    -.02, .04, -.03, .06, -.05, .08, -.04, .10, -.06, .05,
    -.07, .03, -.09, .06, -.04, .07, -.08, .05, -.03, .09,
    -.10, .04, -.07, .08, -.06, .05, -.11, .07, -.02, -.12,
    .06, -.09, .04, -.07, .10, -.12, .06, .14, -.08, .11,
    -.05, .07,
]
err_near = [
    .28, .22, .34, .18, .30, .24, .38, .20, .26, .32,
    .22, .36, .18, .30, .26, .20, .34, .24, .28, .18,
    .30, .22, .26, .36, .20, .24, .32, .18, .28, .22,
    .34, .20, .26, .24, .30, .18, .28, .36, .22, .26,
    .20, .32, .24, .18, .30, .26, .22, .34, .20, .28,
    .24, .36, .18, .26, .30, .22, .20, .28, .34, .24,
    .18, .26, .32, .22, .28, .20, .36, .24, .18, .30,
    .26, .34, .22, .28, .32, .36, .24, .42, .30, .38,
    .26, .34, .44, .22, .30, .40, .28, .46, .24, .36,
    .30, .20, .26, .34, .22, .30, .18, .28, .24, .36,
    .20, .26, .32, .22, .18, .28, .24, .20, .30, .22,
    .26, .34, .20, .38, .28, .44, .24, .36, .30, .40,
    .48, .26, .34, .42, .28, .36, .22, .30, .26, .20,
    .28, .22, .34, .18, .24, .30, .20, .26, .32, .22,
    .28, .18, .24, .30, .20, .26, .22, .34, .24, .18,
    .10, .08, .09, .07, .08, .10, .07, .09, .08, .07,
    .08, .09, .07, .10, .08, .12, .09, .10, .13, .08,
    .14, .10, .16, .09, .12, .15, .10, .17, .13, .09,
    .15, .11, .14, .18, .10, .13, .16, .09, .14, .12,
    .17, .10, .15, .20, .11, .14, .17, .09, .16, .12,
    .18, .10, .15, .20, .12, .16, .10, .13, .09, .08,
    .07, .09, .08, .07, .10, .08, .09, .11, .08, .12,
    .10, .14, .09, .16, .12, .15, .10, .18, .13, .16,
    .20, .12, .15, .18, .11, .22, .14, .17, .20, .12,
    .24, .16, .13, .20, .15, .22, .12, .18, .24, .14,
    .16, .12,
]

SCATTER_COLORS = ["#cabfe4", "#e5c6d6", "#c3e2cc", "#b8e2dc", "#e8cfc6", "#e2c3da"]
CORE_COLORS = ["#e3c5d6", "#d8c6e2", "#bfe2d8", "#e5c6d2", "#c8e0c8", "#dcc4dc"]
year_ticks = [2008, 2009, 2010, 2011]
MINUS = "\u2212"


def pixel_axes(fig, left, top, right, bottom):
    ax = fig.add_axes([left / W, 1 - bottom / H, (right - left) / W, (bottom - top) / H])
    for side in ax.spines:
        ax.spines[side].set_linewidth(1.0)
        ax.spines[side].set_color("#555555")
    ax.tick_params(which="both", direction="in", top=False, right=False,
                   color="#444444", width=0.9)
    ax.tick_params(which="major", labelsize=16, length=7, pad=6)
    ax.tick_params(which="minor", length=4)
    return ax


def series_panel(fig, top, t, v, err, v_near, color, letter, ylabel):
    ax = pixel_axes(fig, 83.5, top, 492, top + 254)
    for vals, errs in [(v_near, err_near), (v, err)]:
        ax.errorbar(t, vals, yerr=errs, fmt="o", color=color, ecolor=color, alpha=0.8,
                    markersize=5, markeredgecolor="none", elinewidth=0.9, capsize=2.8,
                    capthick=0.8)
    ax.axhline(0, color="#333333", lw=1.2, zorder=5)
    ax.set_xlim(2007.6, 2011.8)
    ax.set_ylim(-2.5, 2.5)
    ax.set_xticks(year_ticks)
    ax.xaxis.set_minor_locator(MultipleLocator(0.5))
    ax.set_yticks([-2, -1, 0, 1, 2], [MINUS + "2", MINUS + "1", "0", "1", "2"])
    ax.yaxis.set_minor_locator(MultipleLocator(0.2))
    # the year ticks straddle the frame in these two panels
    ax.tick_params(axis="x", which="major", direction="inout", length=14, pad=8)
    ax.tick_params(axis="x", which="minor", direction="inout", length=7)
    ax.text(2007.81, 1.84, letter, fontsize=21, fontweight="bold", va="center", color="#222222")
    fig.text(289 / W, 1 - (top + 327) / H, "Time [year]", fontsize=16.5, ha="center", va="center")
    fig.text(20 / W, 1 - (top + 127) / H, ylabel, fontsize=16.5, rotation=90,
             ha="center", va="center")
    return ax


def main():
    fig = plt.figure(figsize=(W / 100, H / 100), dpi=100)

    # scatter of all velocities
    ax = pixel_axes(fig, 122.5, 12, 456, 266)
    colors = [SCATTER_COLORS[i % len(SCATTER_COLORS)] for i in range(len(scat_x))]
    ax.scatter(scat_x, scat_y, s=17, c=colors, linewidths=0)
    ring_colors = [SCATTER_COLORS[i % len(SCATTER_COLORS)] for i in range(len(ring_x))]
    ax.scatter(ring_x, ring_y, s=17, c=ring_colors, linewidths=0)
    core_colors = [CORE_COLORS[i % len(CORE_COLORS)] for i in range(len(core_x))]
    ax.scatter(core_x, core_y, s=17, c=core_colors, linewidths=0)
    ax.axhline(0, color="#222222", lw=1.0)
    ax.axvline(0, color="#222222", lw=1.0)
    ax.set_xlim(-2.416, 1.33)
    ax.set_ylim(-1.5, 1.386)
    ax.set_xticks([-2, -1, 0, 1], [MINUS + "2", MINUS + "1", "0", "1"])
    ax.set_yticks([-1.0, -0.5, 0.0, 0.5, 1.0],
                  [MINUS + "1.0", MINUS + "0.5", "0.0", "0.5", "1.0"])
    ax.yaxis.set_minor_locator(MultipleLocator(0.1))
    ax.tick_params(axis="x", which="major", pad=10.5)
    ax.tick_params(axis="y", which="major", pad=7)
    ax.text(-2.27, 1.02, "A", fontsize=22, fontweight="bold", va="center", color="#222222")
    fig.text(289 / W, 1 - 332 / H, r"$v_x$  [km/hr]", fontsize=16.5, ha="center", va="center")
    fig.text(38 / W, 1 - 139 / H, r"$v_y$  [km/hr]", fontsize=16.5, rotation=90,
             ha="center", va="center")

    series_panel(fig, 381.7, time_b, vx, err_vx, vx_near, "#7274ba", "B", r"$v_x$  [km/hr]")
    series_panel(fig, 751.7, time_c, vy, err_vy, vy_near, "#f47f86", "C", r"$v_y$  [km/hr]")

    fig.savefig("out.png", dpi=100)
    plt.close(fig)


if __name__ == "__main__":
    main()
